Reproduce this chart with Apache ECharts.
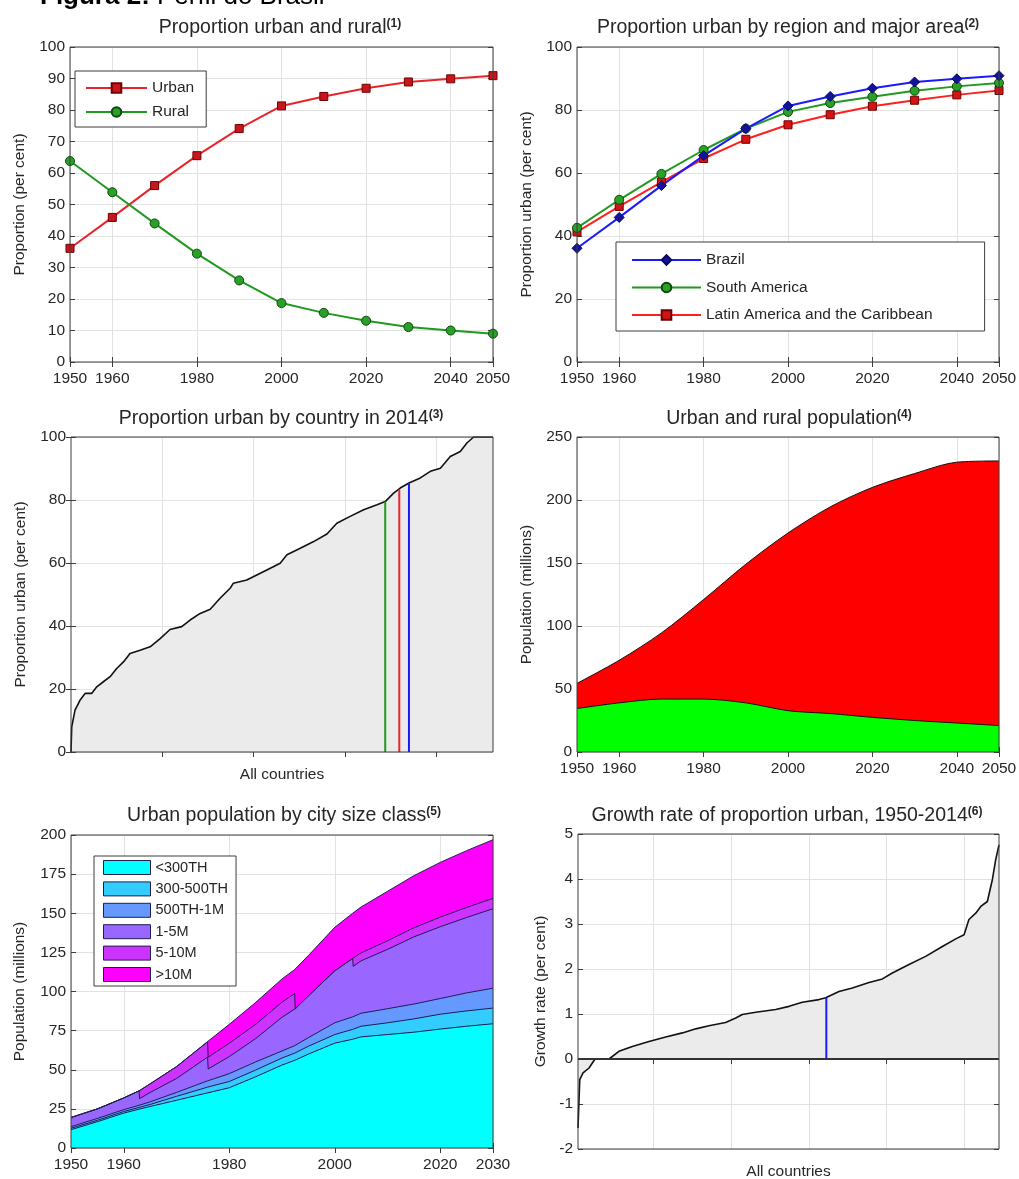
<!DOCTYPE html>
<html>
<head>
<meta charset="utf-8">
<script src="https://cdn.jsdelivr.net/npm/echarts@6/dist/echarts.min.js"></script>
<style>
html, body { margin: 0; padding: 0; background: #fff; }
#main { width: 1019px; height: 1179px; }
</style>
</head>
<body>
<div id="main"></div>
<script>
// ---- data ----
const years = [1950, 1960, 1970, 1980, 1990, 2000, 2010, 2020, 2030, 2040, 2050];

// (1) proportion urban / rural, per cent
const urbanShare = [36.1, 45.9, 56.0, 65.5, 74.1, 81.3, 84.3, 86.9, 88.9, 89.9, 90.9];
const ruralShare = [63.8, 53.9, 44.0, 34.4, 25.9, 18.7, 15.6, 13.1, 11.1, 10.0, 9.0];

// (2) proportion urban by region
const brazilShare = [36.1, 45.9, 56.0, 65.5, 74.1, 81.3, 84.3, 86.9, 88.9, 89.9, 90.9];
const southAmericaShare = [42.6, 51.5, 59.7, 67.3, 74.1, 79.4, 82.2, 84.2, 86.1, 87.5, 88.6];
const latinAmericaShare = [41.3, 49.4, 57.1, 64.6, 70.7, 75.3, 78.5, 81.2, 83.1, 84.8, 86.2];

// (3) proportion urban by country in 2014 (sorted countries)
const countryIdx = [0, 0.4, 2.2, 4.9, 7.7, 11.3, 14.1, 17.7, 21.4, 25, 28.7, 32.3, 37.8, 43.3, 48.8, 54.2,
  60.6, 65.2, 70.7, 76.2, 81.6, 87.1, 88.9, 96.2, 101.7, 107.2, 114.5, 118.2, 125.5, 132.8, 140.1, 145.5,
  152.8, 160.2, 167.5, 172, 176.6, 180.2, 185, 191.2, 196.7, 202.2, 207.6, 213.1, 216.7, 220.4, 231];
const countryShare = [0, 8, 13.3, 16.4, 18.6, 18.6, 20.7, 22.3, 23.9, 26.5, 28.6, 31.3, 32.3, 33.4, 36, 38.9,
  39.8, 41.9, 44, 45.3, 48.8, 52, 53.6, 54.6, 56.2, 57.8, 59.9, 62.6, 64.7, 66.8, 69.2, 72.6,
  74.8, 76.9, 78.5, 79.5, 82.2, 83.8, 85.4, 87, 89.1, 90.1, 93.8, 95.4, 98.1, 100, 100];
// South America, Latin America and the Caribbean, Brazil
const highlightIdx = [172, 179.7, 185];
const highlightShare = [79.5, 83.3, 85.4];

// (4) urban and rural population, millions
const ruralPop = [34.5, 39, 42, 42, 39, 32.8, 30.5, 27.5, 25, 23, 21];
const urbanPop = [20, 33.8, 52.5, 79, 110, 141, 164, 182.5, 196, 207, 210];

// (5) urban population by city size class, millions
const sizeYears = [1950, 1955, 1960, 1962.9, 1963, 1965, 1970, 1975, 1975.9, 1976, 1980, 1985, 1990,
  1992.4, 1992.5, 1995, 2000, 2003.4, 2003.5, 2005, 2010, 2015, 2020, 2025, 2030];
const sizeLt300 = [11.7, 16.8, 22.3, 24.8, 24.8, 26.5, 30.5, 34.5, 35.2, 35.3, 38.5, 45.5, 53,
  56, 56, 60, 67, 69.5, 69.5, 71, 72.5, 74, 76, 77.8, 79.4];
const size300to500 = [0.9, 0.9, 1.0, 1.1, 1.1, 1.3, 2.5, 3.5, 3.7, 3.7, 4, 4.3, 4.5,
  4.6, 4.6, 5, 5.5, 6.3, 6.3, 6.8, 7.5, 8.5, 9.5, 9.8, 10];
const size500to1M = [1.0, 1.2, 1.2, 1.4, 1.4, 1.7, 2.5, 3.8, 4, 4, 5, 5.2, 4.5,
  4.8, 4.8, 5.5, 7.5, 8, 8, 8.3, 9, 9.5, 10, 11.5, 12.7];
const size1to5M = [5.9, 6.1, 7.5, 9.2, 4.2, 6.0, 8.9, 14.2, 15.2, 7.5, 10.9, 14.9, 21.5,
  23.4, 23.4, 26.7, 33.2, 37.3, 32.3, 33.5, 37.9, 42.9, 45.9, 48.2, 50.8];
const size5to10M = [0, 0, 0, 0, 5.0, 5.5, 7.6, 9.5, 9.9, 7.5, 8.5, 9.1, 9.7,
  9.9, 0, 0, 0, 0, 5.0, 5.1, 5.5, 5.8, 6.1, 6.4, 6.6];
const sizeOver10M = [0, 0, 0, 0, 0, 0, 0, 0, 0, 10.0, 12.1, 14.0, 14.8,
  15.3, 25.2, 25.8, 27.8, 28.9, 28.9, 29.3, 31.6, 33.3, 35.0, 36.3, 37.5];
const sizeClasses = ['<300TH', '300-500TH', '500TH-1M', '1-5M', '5-10M', '>10M'];

// (6) growth rate of proportion urban 1950-2014 (sorted countries)
const growthIdx = [1, 1.9, 3.6, 6.7, 8.4, 9.8, 17, 22.1, 29, 37.6, 46.2, 54.8, 61.7, 68.5, 77.1, 82.3,
  85.7, 92.6, 102.9, 109.8, 116.6, 125.2, 128.7, 135.5, 142.4, 151, 157.9, 163, 171.6, 180.2,
  188.8, 195.7, 200, 202.5, 206, 208.6, 212, 214.6, 216.3, 218];
const growthRate = [-1.53, -0.46, -0.31, -0.2, -0.09, 0, 0, 0.17, 0.28, 0.39, 0.49, 0.58, 0.67, 0.74, 0.81, 0.91,
  0.99, 1.04, 1.1, 1.17, 1.26, 1.32, 1.36, 1.5, 1.58, 1.7, 1.78, 1.91, 2.1, 2.28,
  2.5, 2.67, 2.76, 3.1, 3.24, 3.39, 3.5, 3.99, 4.43, 4.76];
const brazilGrowthIdx = 129;
const brazilGrowth = 1.36;

// tick positions
const yearMarks = [1950, 1960, 1980, 2000, 2020, 2040, 2050];
const sizeYearMarks = [1950, 1960, 1980, 2000, 2020, 2030];
const countryMarks = [50, 100, 150, 200];
const growthMarks = [40, 80, 120, 160, 200];

// ---- styling ----
const FONT = 'Liberation Sans, Arial, sans-serif';
const INK = '#262626';
const highlightColors = ['#1f9a1f', '#e8242a', '#1a1aff'];
const sizeColors = ['#00ffff', '#33ccff', '#6699ff', '#9966ff', '#cc33ff', '#ff00ff'];

const chart = echarts.init(document.getElementById('main'));

function pairs(xs, ys) { return xs.map((x, i) => [x, ys[i]]); }

// stacking on two value axes is done by hand: running totals of the bands
function runningTotals(bands) {
  let acc = bands[0].map(() => 0);
  return bands.map(b => (acc = acc.map((v, i) => Math.round((v + b[i]) * 100) / 100)));
}

function gridBox(left, top, width, height) {
  return { left, top, width, height, show: true, borderColor: '#3c3c3c', borderWidth: 1,
    backgroundColor: 'transparent', z: 10, outerBoundsMode: 'none', containLabel: false };
}

const tickStyle = { inside: true, length: 5, lineStyle: { color: '#3c3c3c' } };
const gridLine = { show: true, lineStyle: { color: '#e2e2e2', width: 1 } };
const labelStyle = { color: INK, fontSize: 15.5, fontFamily: FONT };

function yearAxis(gi, min, max, marks) {
  return {
    type: 'value', gridIndex: gi, min, max,
    axisLine: { show: false },
    axisTick: Object.assign({ customValues: marks }, tickStyle),
    axisLabel: Object.assign({ customValues: marks, formatter: v => String(v), margin: 9 }, labelStyle),
    splitLine: gridLine
  };
}

function countAxis(gi, min, max, marks) {
  return {
    type: 'value', gridIndex: gi, min, max,
    name: 'All countries', nameLocation: 'middle', nameGap: 15,
    nameTextStyle: { color: INK, fontSize: 15.5, fontFamily: FONT },
    axisLine: { show: false },
    axisTick: Object.assign({ customValues: marks }, tickStyle),
    axisLabel: { show: false },
    splitLine: gridLine
  };
}

function valAxis(gi, min, max, interval, name, nameGap) {
  return {
    type: 'value', gridIndex: gi, min, max, interval,
    name, nameLocation: 'middle', nameGap,
    nameTextStyle: { color: INK, fontSize: 15.5, fontFamily: FONT },
    axisLine: { show: false },
    axisTick: tickStyle,
    axisLabel: Object.assign({ margin: 5 }, labelStyle),
    splitLine: gridLine
  };
}

// tick marks repeated on the top and right edges of each box
function mirrorX(gi, min, max, marks) {
  return {
    type: 'value', gridIndex: gi, position: 'top', min, max,
    axisLine: { show: false },
    axisTick: Object.assign({ customValues: marks }, tickStyle),
    axisLabel: { show: false }, splitLine: { show: false }
  };
}
function mirrorY(gi, min, max, interval) {
  return {
    type: 'value', gridIndex: gi, position: 'right', min, max, interval,
    axisLine: { show: false }, axisTick: tickStyle,
    axisLabel: { show: false }, splitLine: { show: false }
  };
}

function panelTitle(text, note, x, y) {
  return {
    text: '{t|' + text + '}{s|(' + note + ')}',
    left: x, top: y, textAlign: 'center', padding: 0,
    textStyle: {
      rich: {
        t: { fontSize: 19.5, color: INK, fontFamily: FONT, fontWeight: 'normal' },
        s: { fontSize: 12, color: INK, fontFamily: FONT, verticalAlign: 'top' }
      }
    }
  };
}

const series = [];

// (1)
series.push({
  name: 'Urban', type: 'line', xAxisIndex: 0, yAxisIndex: 0, data: pairs(years, urbanShare),
  symbol: 'rect', symbolSize: 8,
  lineStyle: { color: '#e8242a', width: 2 },
  itemStyle: { color: '#c9151b', borderColor: '#6e0000', borderWidth: 1 }
});
series.push({
  name: 'Rural', type: 'line', xAxisIndex: 0, yAxisIndex: 0, data: pairs(years, ruralShare),
  symbol: 'circle', symbolSize: 9,
  lineStyle: { color: '#1f9a1f', width: 2 },
  itemStyle: { color: '#2a9f2a', borderColor: '#0b4a0b', borderWidth: 1 }
});

// (2)
series.push({
  name: 'Latin America and the Caribbean', type: 'line', xAxisIndex: 1, yAxisIndex: 1,
  data: pairs(years, latinAmericaShare), symbol: 'rect', symbolSize: 8,
  lineStyle: { color: '#ff1f1f', width: 2 },
  itemStyle: { color: '#d41414', borderColor: '#6e0000', borderWidth: 1 }
});
series.push({
  name: 'South America', type: 'line', xAxisIndex: 1, yAxisIndex: 1,
  data: pairs(years, southAmericaShare), symbol: 'circle', symbolSize: 9,
  lineStyle: { color: '#1f9a1f', width: 2 },
  itemStyle: { color: '#2a9f2a', borderColor: '#0b4a0b', borderWidth: 1 }
});
series.push({
  name: 'Brazil', type: 'line', xAxisIndex: 1, yAxisIndex: 1,
  data: pairs(years, brazilShare), symbol: 'diamond', symbolSize: 10,
  lineStyle: { color: '#1a1aff', width: 2 },
  itemStyle: { color: '#12129a', borderColor: '#0a0a60', borderWidth: 1 }
});

// (3)
series.push({
  name: 'Countries 2014', type: 'line', xAxisIndex: 2, yAxisIndex: 2,
  data: pairs(countryIdx, countryShare), symbol: 'none',
  lineStyle: { color: '#111', width: 1.6 },
  areaStyle: { color: '#ebebeb', opacity: 1 }
});
highlightIdx.forEach((x, i) => {
  series.push({
    name: 'highlight' + i, type: 'line', xAxisIndex: 2, yAxisIndex: 2,
    data: [[x, 0], [x, highlightShare[i]]], symbol: 'none',
    lineStyle: { color: highlightColors[i], width: 2 }
  });
});

// (4) total first (red), rural drawn over it (green)
const popTops = runningTotals([ruralPop, urbanPop]);
series.push({
  name: 'Urban population', type: 'line', xAxisIndex: 3, yAxisIndex: 3,
  data: pairs(years, popTops[1]), symbol: 'none', smooth: 0.3,
  lineStyle: { color: '#111', width: 1 },
  areaStyle: { color: '#ff0000', opacity: 1 }
});
series.push({
  name: 'Rural population', type: 'line', xAxisIndex: 3, yAxisIndex: 3,
  data: pairs(years, popTops[0]), symbol: 'none', smooth: 0.3,
  lineStyle: { color: '#111', width: 1 },
  areaStyle: { color: '#00ff00', opacity: 1 }
});

// (5) largest running total first, each smaller one painted over it
const sizeTops = runningTotals([sizeLt300, size300to500, size500to1M, size1to5M, size5to10M, sizeOver10M]);
for (let i = sizeTops.length - 1; i >= 0; i--) {
  series.push({
    name: sizeClasses[i], type: 'line', xAxisIndex: 4, yAxisIndex: 4,
    data: pairs(sizeYears, sizeTops[i]), symbol: 'none',
    itemStyle: { color: sizeColors[i] },
    lineStyle: { color: '#1e1e50', width: 1 },
    areaStyle: { color: sizeColors[i], opacity: 1 }
  });
}

// (6)
series.push({
  name: 'Growth rate', type: 'line', xAxisIndex: 5, yAxisIndex: 5,
  data: pairs(growthIdx, growthRate), symbol: 'none',
  lineStyle: { color: '#111', width: 1.6 },
  areaStyle: { color: '#ebebeb', opacity: 1 },
  markLine: {
    silent: true, symbol: ['none', 'none'], label: { show: false },
    lineStyle: { color: '#333', width: 2, type: 'solid' },
    data: [{ yAxis: 0 }]
  }
});
series.push({
  name: 'Brazil growth', type: 'line', xAxisIndex: 5, yAxisIndex: 5,
  data: [[brazilGrowthIdx, 0], [brazilGrowthIdx, brazilGrowth]], symbol: 'none',
  lineStyle: { color: '#1a1aff', width: 2 }, z: 3
});

const legendText = { color: INK, fontSize: 15.5, fontFamily: FONT };

const option = {
  animation: false,
  backgroundColor: '#fff',
  graphic: [{
    type: 'text', x: 40, y: -16,
    style: {
      text: '{b|Figura 2:} Perfil do Brasil',
      fontSize: 26, fontFamily: FONT, fill: '#000',
      rich: { b: { fontSize: 26, fontWeight: 'bold', fontFamily: FONT, fill: '#000' } }
    }
  }],
  title: [
    panelTitle('Proportion urban and rural', 1, 280, 18),
    panelTitle('Proportion urban by region and major area', 2, 788, 18),
    panelTitle('Proportion urban by country in 2014', 3, 281, 409),
    panelTitle('Urban and rural population', 4, 789, 409),
    panelTitle('Urban population by city size class', 5, 284, 806),
    panelTitle('Growth rate of proportion urban, 1950-2014', 6, 787, 806)
  ],
  legend: [
    {
      data: ['Urban', 'Rural'], orient: 'vertical', left: 75, top: 71,
      itemWidth: 61, itemHeight: 12, itemGap: 8, selectedMode: false,
      padding: [9, 12, 7, 10], backgroundColor: '#fff', borderColor: '#3c3c3c', borderWidth: 1,
      textStyle: legendText
    },
    {
      data: ['Brazil', 'South America', 'Latin America and the Caribbean'], orient: 'vertical',
      left: 616, top: 242, itemWidth: 69, itemHeight: 12, itemGap: 11.5, selectedMode: false,
      padding: [10, 52, 8, 15], backgroundColor: '#fff', borderColor: '#3c3c3c', borderWidth: 1,
      textStyle: legendText
    },
    {
      data: sizeClasses, orient: 'vertical', left: 94, top: 856,
      icon: 'rect', itemWidth: 47, itemHeight: 14, itemGap: 6.4, selectedMode: false,
      padding: [4, 8, 4, 9], backgroundColor: '#fff', borderColor: '#3c3c3c', borderWidth: 1,
      itemStyle: { borderColor: '#1e1e50', borderWidth: 1 },
      textStyle: { color: INK, fontSize: 14.5, fontFamily: FONT }
    }
  ],
  grid: [
    gridBox(70, 47, 423, 315),
    gridBox(577, 47, 422, 315),
    gridBox(71, 437, 422, 315),
    gridBox(577, 437, 422, 315),
    gridBox(71, 835, 422, 313),
    gridBox(578, 834, 421, 315)
  ],
  xAxis: [
    yearAxis(0, 1950, 2050, yearMarks),
    yearAxis(1, 1950, 2050, yearMarks),
    countAxis(2, 0, 231, countryMarks),
    yearAxis(3, 1950, 2050, yearMarks),
    yearAxis(4, 1950, 2030, sizeYearMarks),
    countAxis(5, 1, 218, growthMarks),
    mirrorX(0, 1950, 2050, yearMarks),
    mirrorX(1, 1950, 2050, yearMarks),
    mirrorX(2, 0, 231, countryMarks),
    mirrorX(3, 1950, 2050, yearMarks),
    mirrorX(4, 1950, 2030, sizeYearMarks),
    mirrorX(5, 1, 218, growthMarks)
  ],
  yAxis: [
    valAxis(0, 0, 100, 10, 'Proportion (per cent)', 42),
    valAxis(1, 0, 100, 20, 'Proportion urban (per cent)', 42),
    valAxis(2, 0, 100, 20, 'Proportion urban (per cent)', 42),
    valAxis(3, 0, 250, 50, 'Population (millions)', 42),
    valAxis(4, 0, 200, 25, 'Population (millions)', 43),
    valAxis(5, -2, 5, 1, 'Growth rate (per cent)', 29),
    mirrorY(0, 0, 100, 10),
    mirrorY(1, 0, 100, 20),
    mirrorY(2, 0, 100, 20),
    mirrorY(3, 0, 250, 50),
    mirrorY(4, 0, 200, 25),
    mirrorY(5, -2, 5, 1)
  ],
  series: series
};

chart.setOption(option);
window.addEventListener('resize', () => chart.resize());
</script>
</body>
</html>
